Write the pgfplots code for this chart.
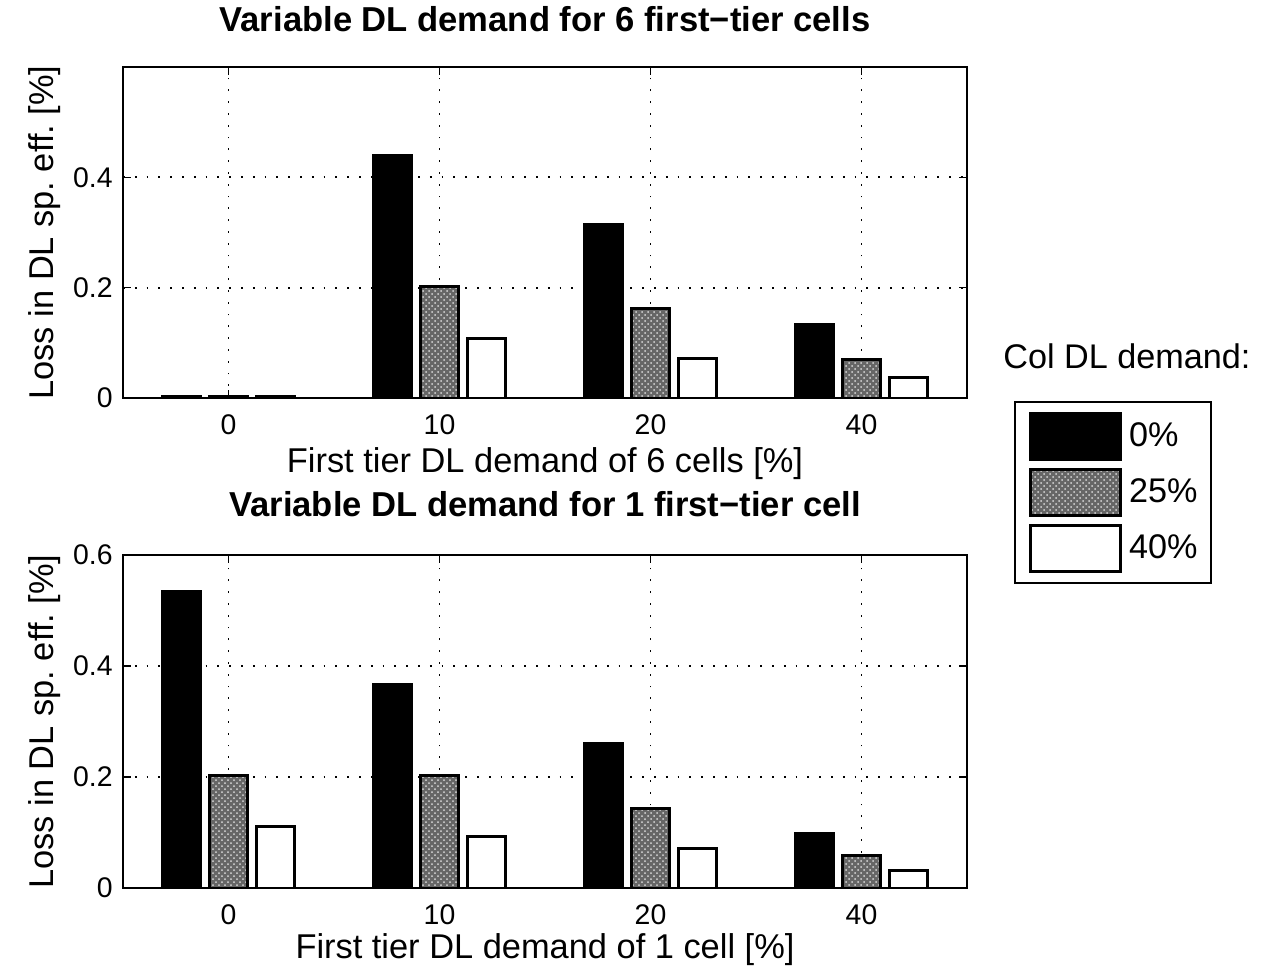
\documentclass[border=0pt]{standalone}
\usepackage{pgfplots}
\usepackage{pgfplotstable}
\pgfplotsset{compat=1.18}
\usepackage{fontspec}
\setmainfont{Liberation Sans}
\usetikzlibrary{patterns}

% Loss in DL spectral efficiency [%] per first-tier demand level (x index 0..3 = 0,10,20,40 %)
\pgfplotstableread{
x  c0     c25    c40
0  0.002  0.002  0.002
1  0.440  0.202  0.108
2  0.315  0.163  0.072
3  0.133  0.069  0.037
}\sixcells
\pgfplotstableread{
x  c0     c25    c40
0  0.535  0.203  0.110
1  0.367  0.203  0.092
2  0.261  0.144  0.072
3  0.099  0.059  0.032
}\onecell

\pgfplotsset{
  lossaxis/.style={
    scale only axis,
    width=422pt,
    xmin=-0.5, xmax=3.5,
    ymin=0, ymax=0.6,
    xtick={0,1,2,3},
    xticklabels={0,10,20,40},
    axis line style={line width=1pt},
    tick style={line width=0.8pt, black},
    tick align=inside,
    major tick length=4pt,
    grid=major,
    major grid style={line width=0.9pt, dash pattern=on 0.9pt off 5pt, black},
    /pgf/number format/assume math mode=true,
    xticklabel style={font=\fontsize{14.2}{16}\selectfont, inner sep=0pt, yshift=-8pt},
    yticklabel style={font=\fontsize{14.2}{16}\selectfont, inner sep=0pt, xshift=-5pt},
    label style={font=\fontsize{17.2}{19}\selectfont},
    title style={font=\fontsize{17.3}{19}\selectfont\bfseries, anchor=base},
    ylabel style={at={(axis description cs:-0.0829,0.5)}, anchor=base},
    xlabel style={anchor=base},
    ylabel={Loss in DL sp.\ eff.\ [\%]},
  },
  barbase/.style={
    ybar, bar width=0.178, draw=black, line width=1.5pt,
    legend image code/.code={
      \draw[##1] (0pt,-11.5pt) rectangle (45pt,11.5pt);
      \node[inner sep=0pt, minimum size=0pt] at (48.5pt,0pt) {};
    },
  },
  bar0/.style={barbase, bar shift=-0.2227, fill=black},
  bar25/.style={barbase, bar shift=0, fill=black!60,
    postaction={pattern=crosshatch dots, pattern color=white!85!black}},
  bar40/.style={barbase, bar shift=0.2227, fill=white},
}

\begin{document}
\begin{tikzpicture}
\path[use as bounding box] (-61.5pt,199pt) rectangle (582.5pt,-284pt);

\begin{axis}[
  lossaxis,
  height=165.5pt,
  at={(0pt,0pt)}, anchor=south west,
  ytick={0,0.2,0.4},
  title={Variable DL demand for 6 first−tier cells},
  title style={at={(axis description cs:0.5,1.0725)}},
  xlabel={First tier DL demand of 6 cells [\%]},
  xlabel style={at={(axis description cs:0.5,-0.2236)}},
  legend cell align=left,
  legend style={
    at={(1.0557,-0.009)}, anchor=north west,
    draw=black, line width=1pt,
    inner xsep=7pt, inner ysep=5pt,
    row sep=3.5pt,
    nodes={inner sep=0pt},
    font=\fontsize{17.1}{19}\selectfont,
  },
]
\addplot[bar0]  table[x=x, y=c0]  {\sixcells};
\addplot[bar25] table[x=x, y=c25] {\sixcells};
\addplot[bar40] table[x=x, y=c40] {\sixcells};
\legend{0\%, 25\%, 40\%}
\end{axis}

\node[anchor=base west, inner sep=0pt, font=\fontsize{17.1}{19}\selectfont]
  at (440pt,15pt) {Col DL demand:};

\begin{axis}[
  lossaxis,
  height=166.5pt,
  at={(0pt,-245pt)}, anchor=south west,
  ytick={0,0.2,0.4,0.6},
  title={Variable DL demand for 1 first−tier cell},
  title style={at={(axis description cs:0.5,1.081)}},
  xlabel={First tier DL demand of 1 cell [\%]},
  xlabel style={at={(axis description cs:0.5,-0.2102)}},
]
\addplot[bar0]  table[x=x, y=c0]  {\onecell};
\addplot[bar25] table[x=x, y=c25] {\onecell};
\addplot[bar40] table[x=x, y=c40] {\onecell};
\end{axis}
\end{tikzpicture}
\end{document}
